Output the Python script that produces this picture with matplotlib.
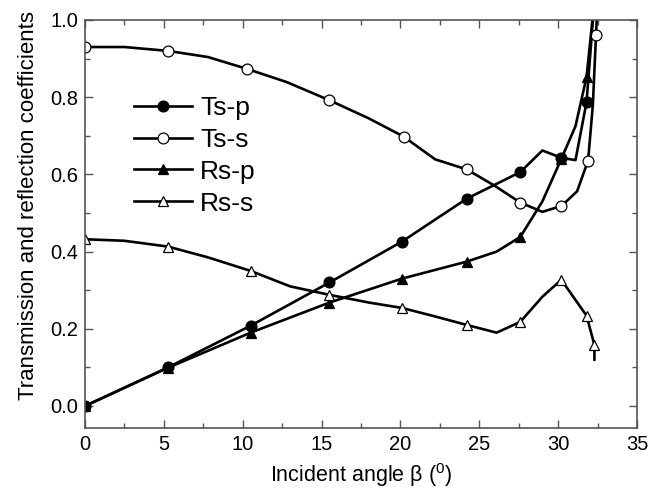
import matplotlib
matplotlib.use('Agg')
import matplotlib.pyplot as plt
from matplotlib.ticker import MultipleLocator

plt.rcParams['font.family'] = ['Liberation Sans', 'DejaVu Sans']

# Curve points (incident angle in degrees)
ts_p_x = [0, 5.26, 10.5, 15.5, 20.1, 24.2, 27.6, 29.0, 30.2, 31.1, 31.8, 32.3]
ts_p_y = [0.0, 0.10, 0.208, 0.32, 0.426, 0.537, 0.606, 0.662, 0.643, 0.637, 0.787, 1.05]
ts_p_marks = [0, 1, 2, 3, 4, 5, 6, 8, 10]

ts_s_x = [0, 2.5, 5.26, 7.8, 10.3, 12.8, 15.5, 18.0, 20.2, 22.2, 24.2, 26.0,
          27.6, 29.0, 30.2, 31.2, 31.9, 32.2, 32.4, 32.5]
ts_s_y = [0.93, 0.93, 0.92, 0.904, 0.873, 0.839, 0.792, 0.745, 0.698, 0.639,
          0.613, 0.57, 0.527, 0.503, 0.518, 0.556, 0.636, 0.78, 0.96, 1.05]
ts_s_marks = [0, 2, 4, 6, 8, 10, 12, 14, 16, 18]

rs_p_x = [0, 5.26, 10.5, 15.5, 20.1, 24.2, 26.1, 27.6, 29.0, 30.2, 31.1, 31.8, 32.3]
rs_p_y = [0.0, 0.099, 0.19, 0.268, 0.33, 0.374, 0.40, 0.438, 0.53, 0.64, 0.725, 0.852, 1.05]
rs_p_marks = [0, 1, 2, 3, 4, 5, 7, 9, 11]

rs_s_x = [0, 2.5, 5.26, 7.8, 10.5, 13.0, 15.5, 18.0, 20.1, 22.2, 24.2, 26.1,
          27.6, 29.0, 30.2, 31.8, 32.3, 32.3]
rs_s_y = [0.432, 0.428, 0.413, 0.385, 0.35, 0.31, 0.288, 0.268, 0.254, 0.232,
          0.21, 0.19, 0.218, 0.283, 0.327, 0.234, 0.158, 0.12]
rs_s_marks = [0, 2, 4, 6, 8, 10, 12, 14, 15, 16]

fig = plt.figure(figsize=(6.51, 5.0), dpi=100)
ax = fig.add_axes([0.1306, 0.144, 0.8479, 0.816])

style = dict(color='black', linewidth=1.9, markersize=7.8, markeredgewidth=0.9,
             markeredgecolor='black')
ax.plot(ts_p_x, ts_p_y, marker='o', markerfacecolor='black',
        markevery=ts_p_marks, label='Ts-p', **style)
ax.plot(ts_s_x, ts_s_y, marker='o', markerfacecolor='white',
        markevery=ts_s_marks, label='Ts-s', **style)
ax.plot(rs_p_x, rs_p_y, marker='^', markerfacecolor='black',
        markevery=rs_p_marks, label='Rs-p', **style)
ax.plot(rs_s_x, rs_s_y, marker='^', markerfacecolor='white',
        markevery=rs_s_marks, label='Rs-s', **style)

ax.set_xlim(0, 35)
ax.set_ylim(-0.057, 1.0)
ax.xaxis.set_major_locator(MultipleLocator(5))
ax.xaxis.set_minor_locator(MultipleLocator(2.5))
ax.yaxis.set_major_locator(MultipleLocator(0.2))
ax.yaxis.set_minor_locator(MultipleLocator(0.1))
ax.yaxis.set_major_formatter(plt.FormatStrFormatter('%.1f'))

edge = '#555555'
for s in ax.spines.values():
    s.set_color(edge)
    s.set_linewidth(1.2)
ax.tick_params(which='both', direction='in', top=True, right=True,
               color=edge, width=1.0, labelsize=14.5, pad=5)
ax.tick_params(which='major', length=6)
ax.tick_params(which='minor', length=3.5)

ax.set_ylabel('Transmission and reflection coefficients', fontsize=16)
ax.yaxis.set_label_coords(-0.083, 0.545)
ax.set_xlabel('Incident angle $\\mathregular{\\beta}$ ($\\mathregular{^0}$)',
              fontsize=15.5, labelpad=5)

leg = ax.legend(loc='upper left', bbox_to_anchor=(0.07, 0.84), frameon=False,
                fontsize=19, handlelength=2.2, handletextpad=0.3,
                labelspacing=0.3, borderaxespad=0)

fig.savefig('out.png', dpi=100)
